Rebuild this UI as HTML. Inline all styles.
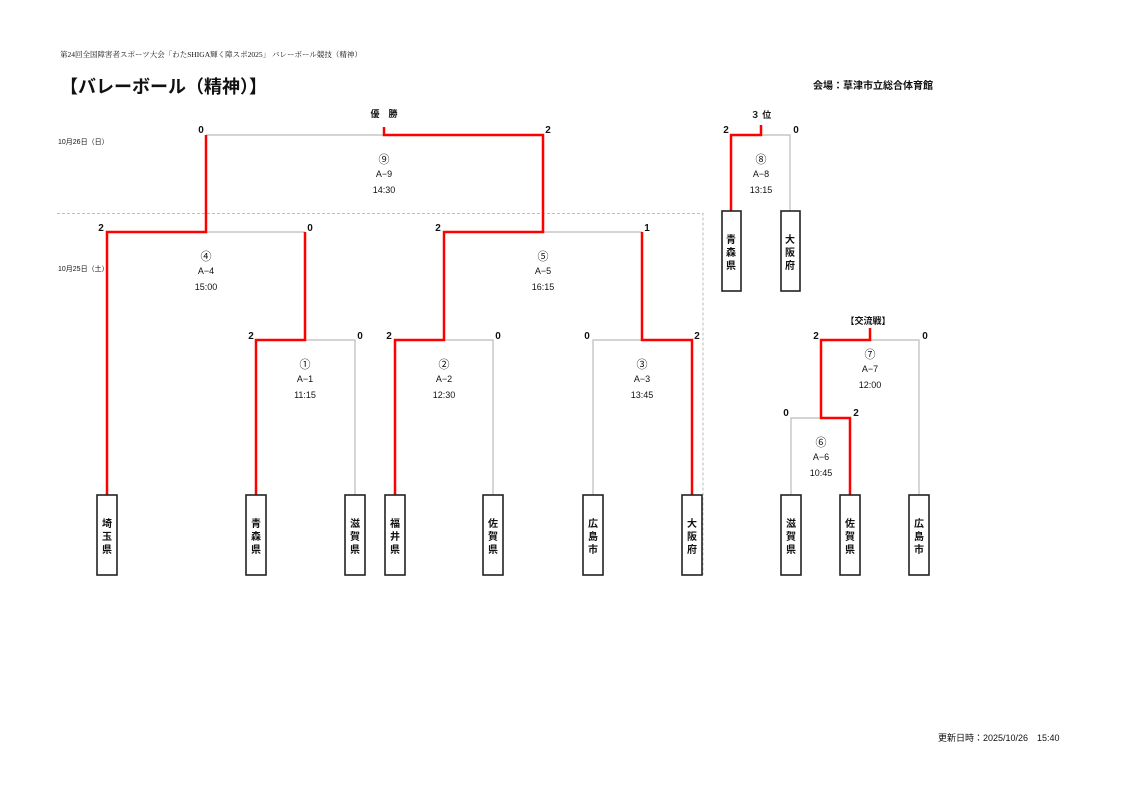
<!DOCTYPE html>
<html><head><meta charset="utf-8"><style>
html,body{margin:0;padding:0;background:#fff;}
svg{display:block;}
text{font-family:"Liberation Sans","Noto Sans CJK JP",sans-serif;fill:#111;}
.b{font-weight:bold;}
</style></head><body>
<svg width="1122" height="794" viewBox="0 0 1122 794" xmlns="http://www.w3.org/2000/svg">
<text x="60" y="57" font-size="7.5" style="font-family:'Liberation Serif','Noto Serif CJK SC',serif" fill="#333">第24回全国障害者スポーツ大会「わたSHIGA輝く障スポ2025」 バレーボール競技（精神）</text>
<text x="60" y="93" font-size="18" class="b">【バレーボール（精神）】</text>
<text x="813" y="89" font-size="10" class="b">会場：草津市立総合体育館</text>
<text x="58" y="144" font-size="7">10月26日（日）</text>
<text x="58" y="271" font-size="7">10月25日（土）</text>
<text x="938" y="741" font-size="9">更新日時：2025/10/26　15:40</text>

<path d="M57 213.5 H703 V575" fill="none" stroke="#aaa" stroke-width="0.8" stroke-dasharray="3,2"/>

<g fill="none" stroke="#bbb" stroke-width="1.2">
<path d="M206 135 H384"/>
<path d="M206 232 H305"/>
<path d="M305 340 H355 V495"/>
<path d="M444 340 H493 V495"/>
<path d="M593 495 V340 H642"/>
<path d="M543 232 H642"/>
<path d="M761 135 H790 V211"/>
<path d="M791 495 V418 H821"/>
<path d="M870 340 H919 V495"/>
</g>
<g fill="none" stroke="#f00" stroke-width="2.5">
<path d="M384 127 V135 H543 V232 H444 V340 H395 V495"/>
<path d="M206 135 V232 H107 V495"/>
<path d="M305 232 V340 H256 V495"/>
<path d="M642 232 V340 H692 V495"/>
<path d="M761 125 V135 H731 V211"/>
<path d="M870 328 V340 H821 V418 H850 V495"/>
</g>

<g fill="#fff" stroke="#222" stroke-width="1.6">
<rect x="97" y="495" width="20" height="80"/>
<rect x="246" y="495" width="20" height="80"/>
<rect x="345" y="495" width="20" height="80"/>
<rect x="385" y="495" width="20" height="80"/>
<rect x="483" y="495" width="20" height="80"/>
<rect x="583" y="495" width="20" height="80"/>
<rect x="682" y="495" width="20" height="80"/>
<rect x="722" y="211" width="19" height="80"/>
<rect x="781" y="211" width="19" height="80"/>
<rect x="781" y="495" width="20" height="80"/>
<rect x="840" y="495" width="20" height="80"/>
<rect x="909" y="495" width="20" height="80"/>
</g>
<g font-size="10" class="b" text-anchor="middle">
<text x="107" y="527">埼</text><text x="107" y="540">玉</text><text x="107" y="553">県</text>
<text x="256" y="527">青</text><text x="256" y="540">森</text><text x="256" y="553">県</text>
<text x="355" y="527">滋</text><text x="355" y="540">賀</text><text x="355" y="553">県</text>
<text x="395" y="527">福</text><text x="395" y="540">井</text><text x="395" y="553">県</text>
<text x="493" y="527">佐</text><text x="493" y="540">賀</text><text x="493" y="553">県</text>
<text x="593" y="527">広</text><text x="593" y="540">島</text><text x="593" y="553">市</text>
<text x="692" y="527">大</text><text x="692" y="540">阪</text><text x="692" y="553">府</text>
<text x="731" y="243">青</text><text x="731" y="256">森</text><text x="731" y="269">県</text>
<text x="790" y="243">大</text><text x="790" y="256">阪</text><text x="790" y="269">府</text>
<text x="791" y="527">滋</text><text x="791" y="540">賀</text><text x="791" y="553">県</text>
<text x="850" y="527">佐</text><text x="850" y="540">賀</text><text x="850" y="553">県</text>
<text x="919" y="527">広</text><text x="919" y="540">島</text><text x="919" y="553">市</text>
</g>

<g font-size="10" class="b" text-anchor="middle">
<text x="201" y="133">0</text><text x="548" y="133">2</text>
<text x="101" y="231">2</text><text x="310" y="231">0</text>
<text x="438" y="231">2</text><text x="647" y="231">1</text>
<text x="251" y="339">2</text><text x="360" y="339">0</text>
<text x="389" y="339">2</text><text x="498" y="339">0</text>
<text x="587" y="339">0</text><text x="697" y="339">2</text>
<text x="726" y="133">2</text><text x="796" y="133">0</text>
<text x="816" y="339">2</text><text x="925" y="339">0</text>
<text x="786" y="416">0</text><text x="856" y="416">2</text>
<text x="384" y="117" font-size="9">優　勝</text>
<text x="761" y="118" font-size="9">３ 位</text>
<text x="868" y="324" font-size="9">【交流戦】</text>
</g>

<g font-size="9" text-anchor="middle" style="fill:#000">
<text x="384" y="163" font-size="11">⑨</text><text x="384" y="177">A−9</text><text x="384" y="193">14:30</text>
<text x="206" y="260" font-size="11">④</text><text x="206" y="274">A−4</text><text x="206" y="290">15:00</text>
<text x="543" y="260" font-size="11">⑤</text><text x="543" y="274">A−5</text><text x="543" y="290">16:15</text>
<text x="305" y="368" font-size="11">①</text><text x="305" y="382">A−1</text><text x="305" y="398">11:15</text>
<text x="444" y="368" font-size="11">②</text><text x="444" y="382">A−2</text><text x="444" y="398">12:30</text>
<text x="642" y="368" font-size="11">③</text><text x="642" y="382">A−3</text><text x="642" y="398">13:45</text>
<text x="761" y="163" font-size="11">⑧</text><text x="761" y="177">A−8</text><text x="761" y="193">13:15</text>
<text x="870" y="358" font-size="11">⑦</text><text x="870" y="372">A−7</text><text x="870" y="388">12:00</text>
<text x="821" y="446" font-size="11">⑥</text><text x="821" y="460">A−6</text><text x="821" y="476">10:45</text>
</g>
</svg>
</body></html>
